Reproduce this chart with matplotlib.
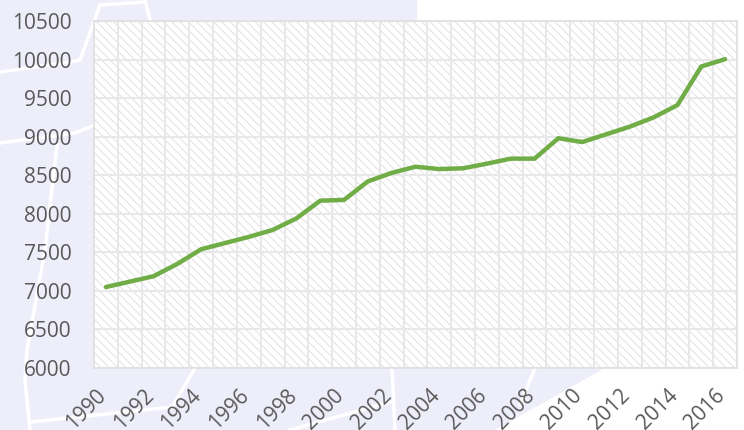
import numpy as np
import matplotlib.pyplot as plt
import matplotlib.patches as patches
import matplotlib.transforms as mtransforms
from matplotlib.lines import Line2D
from matplotlib.ticker import MultipleLocator

plt.rcParams['font.family'] = ['Open Sans', 'DejaVu Sans']
plt.rcParams['hatch.linewidth'] = 0.7

# data
years = list(range(1990, 2017))
values = [7050, 7120, 7190, 7350, 7540, 7620, 7700, 7790, 7940, 8170,
          8180, 8420, 8530, 8610, 8580, 8590, 8650, 8715, 8715, 8980,
          8930, 9030, 9130, 9250, 9410, 9910, 10005]
yticks = list(range(6000, 10501, 500))
xtick_years = list(range(1990, 2017, 2))

W, H = 744, 430
fig = plt.figure(figsize=(W / 100, H / 100), dpi=100, facecolor='white')

lav = '#EEEEFB'


def px(x, y):
    """pixel (from top-left) -> figure fraction"""
    return (x / W, 1 - y / H)


# watermark-like background
bg = [(0, 0), (417, 0), (417, 22), (94, 22), (94, 368), (605, 368), (495, 430), (0, 430)]
fig.patches.append(patches.Polygon([px(*p) for p in bg], closed=True,
                                   facecolor=lav, edgecolor='none',
                                   transform=fig.transFigure, zorder=0))

roads = [
    [(0, 72), (70, 62), (80, 60), (100, 5), (145, 2)],
    [(145, 0), (150, 20)],
    [(0, 143), (75, 133), (95, 125), (100, 118)],
    [(57, 145), (45, 250), (27, 350), (25, 380), (30, 430)],
    [(30, 422), (172, 407), (195, 368)],
    [(290, 430), (390, 402)],
    [(392, 368), (395, 430)],
    [(535, 368), (520, 405)],
]
for r in roads:
    xs, ys = zip(*[px(*p) for p in r])
    fig.lines.append(Line2D(xs, ys, color='white', lw=2.5,
                            transform=fig.transFigure, zorder=0.5))

ax = fig.add_axes([94 / W, 1 - 368 / H, (737 - 94) / W, (368 - 21) / H])
ax.set_zorder(2)
ax.set_facecolor('white')

# hatched plot area
hatch = patches.Rectangle((0, 0), 1, 1, transform=ax.transAxes, facecolor='white',
                          edgecolor='#E2E2E2', hatch='\\\\\\\\', lw=0, zorder=0)
ax.add_patch(hatch)

ax.plot(years, values, color='#70AD47', lw=3.2, solid_joinstyle='round',
        solid_capstyle='round', zorder=3)

ax.set_xlim(1989.5, 2016.5)
ax.set_ylim(6000, 10500)
ax.set_yticks(yticks)
ax.set_xticks(xtick_years)
ax.xaxis.set_minor_locator(MultipleLocator(1, offset=0.5))
ax.grid(axis='y', which='major', color='#E8E8E8', lw=1.5, zorder=1)
ax.grid(axis='x', which='minor', color='#E8E8E8', lw=1.5, zorder=1)
ax.set_axisbelow(True)

for s in ax.spines.values():
    s.set_color('#E0E0E0')
    s.set_linewidth(1.2)

ax.tick_params(axis='both', which='both', length=0, labelsize=15, labelcolor='#595959')
ax.tick_params(axis='y', pad=16)
ax.tick_params(axis='x', pad=12)
offset = mtransforms.ScaledTranslation(0.045, 0, fig.dpi_scale_trans)
for lbl in ax.get_xticklabels():
    lbl.set_rotation(45)
    lbl.set_ha('right')
    lbl.set_transform(lbl.get_transform() + offset)

fig.savefig('out.png', dpi=100, facecolor=fig.get_facecolor())
